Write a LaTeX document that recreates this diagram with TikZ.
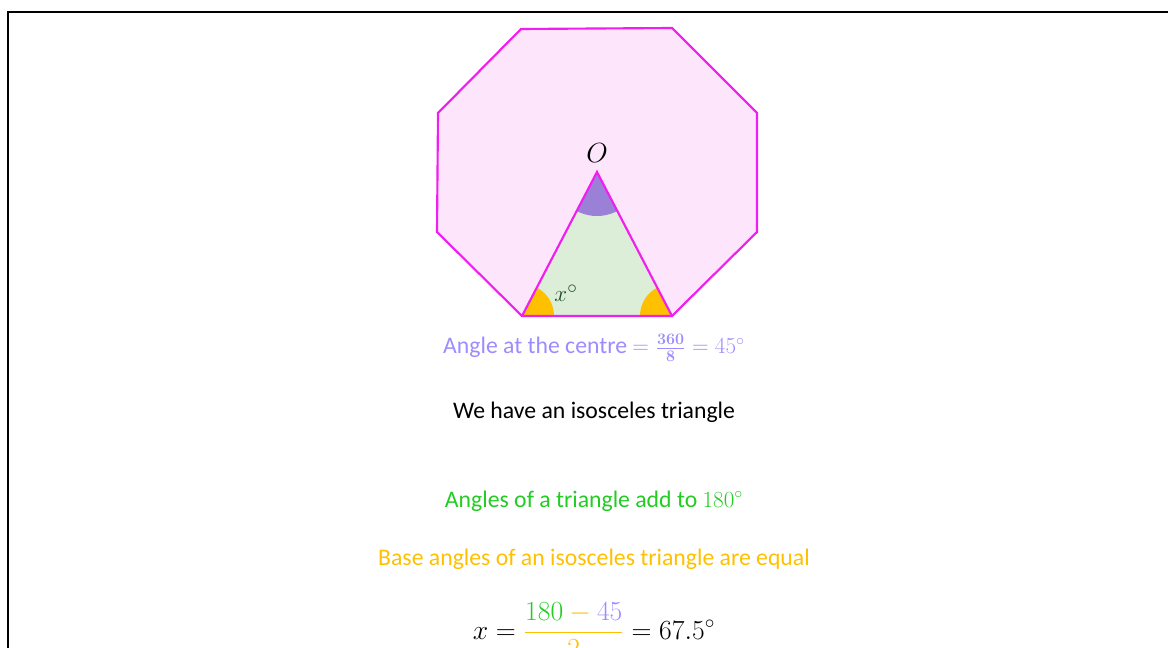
\documentclass[tikz,border=0pt]{standalone}
\usepackage[no-math]{fontspec}
\setmainfont{Carlito}
\usepackage{xcolor}
\definecolor{cEdge}{HTML}{F01EF0}
\definecolor{cPink}{HTML}{FDE6FC}
\definecolor{cTri}{HTML}{DDEED8}
\definecolor{cLav}{HTML}{9C8CFF}
\definecolor{cPurple}{HTML}{9B80D8}
\definecolor{cGreen}{HTML}{22CC22}
\definecolor{cOrange}{HTML}{FFC000}
\definecolor{cDark}{HTML}{1E4A2A}
\usepackage{tikz}
\usetikzlibrary{positioning}
\tikzset{
  poly-edge/.style={draw=cEdge,line width=1.6pt,line join=miter},
  note-text/.style={font=\fontsize{17.8}{21}\selectfont,inner sep=0pt},
  label-math/.style={font=\fontsize{19}{22}\selectfont,inner sep=0pt},
}

\begin{document}
\begin{tikzpicture}[x=0.75pt,y=-0.75pt]
  \useasboundingbox (0,0) rectangle (1168,648);
  \clip (0,0) rectangle (1168,648);
  % frame, runs off the page right and bottom
  \draw[line width=1.5pt] (8,700) -- (8,12) -- (1200,12);
  % octagon
  \coordinate (p1) at (521,29);  \coordinate (p2) at (672,28);
  \coordinate (p3) at (757,113); \coordinate (p4) at (757,232);
  \coordinate (p5) at (672,316); \coordinate (p6) at (522,316);
  \coordinate (p7) at (437,232); \coordinate (p8) at (438,113);
  \coordinate (O) at (597,172);
  \fill[cPink] (p1) -- (p2) -- (p3) -- (p4) -- (p5) -- (p6) -- (p7) -- (p8) -- cycle;
  % triangle with its angles
  \fill[cTri] (O) -- (p6) -- (p5) -- cycle;
  \begin{scope}
    \clip (O) -- (p6) -- (p5) -- cycle;
    \fill[cPurple] (O) circle (44);
    \fill[cOrange] (p6) circle (32);
    \fill[cOrange] (p5) circle (32);
  \end{scope}
  \draw[poly-edge] (p1) -- (p2) -- (p3) -- (p4) -- (p5) -- (p6) -- (p7) -- (p8) -- cycle;
  \draw[poly-edge] (p6) -- (O) -- (p5);
  \node[label-math,font=\fontsize{21}{24}\selectfont] (lblO) at (597,153) {$O$};
  \node[label-math,text=cDark] (lblx) at (566,293) {$x^\circ$};
  % working
  \node[note-text,text=cLav] (centre) at (594,348)
    {Angle at the centre $=\frac{\mathbf{360}}{\mathbf{8}}=45^\circ$};
  \node[note-text] (iso) at (594,412) {We have an isosceles triangle};
  \node[note-text,text=cGreen] (sum) at (594,501) {Angles of a triangle add to $180^\circ$};
  \node[note-text,text=cOrange] (base) at (594,559) {Base angles of an isosceles triangle are equal};
  \node[label-math,font=\fontsize{21}{24}\selectfont,anchor=base] (eqn) at (594,639)
    {$x=\textcolor{cOrange}{\displaystyle\frac{\textcolor{cGreen}{180}-\textcolor{cLav}{45}}{2}}=67.5^\circ$};
\end{tikzpicture}
\end{document}
